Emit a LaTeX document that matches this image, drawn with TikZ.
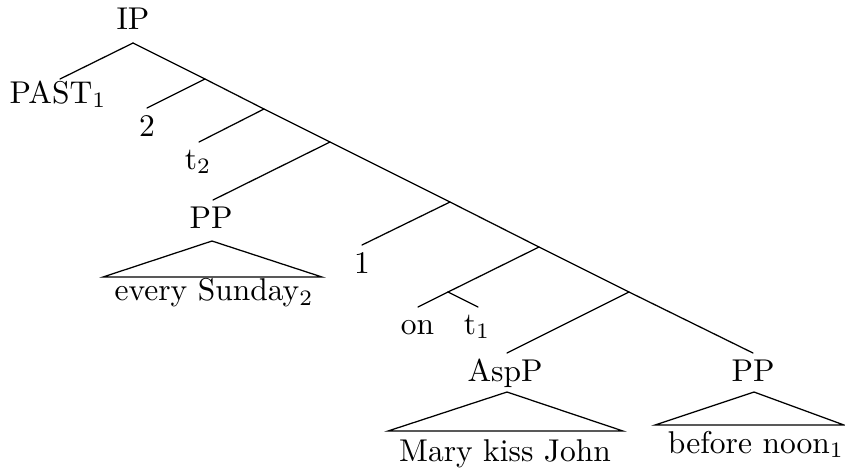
\documentclass[tikz,border=0pt]{standalone}
\begin{document}
\begin{tikzpicture}[x=0.31746pt,y=-0.31746pt,
  lbl/.style={anchor=base,inner sep=0pt,outer sep=0pt},
  edge/.style={line width=0.4pt,line cap=round},
  roof/.style={line width=0.4pt,line join=miter}]
\useasboundingbox (0,0) rectangle (845,468);
% branch points
\coordinate (ip) at (133,43);
\coordinate (b1) at (205,79);
\coordinate (b2) at (264,109);
\coordinate (b3) at (330,142);
\coordinate (b4) at (450,202);
\coordinate (b5) at (539,247);
\coordinate (b6) at (629,292);
\coordinate (ppR) at (753,353);
\coordinate (pastE) at (60,79);
\coordinate (twoE) at (147,108);
\coordinate (t2E) at (199,142);
\coordinate (ppLE) at (213,200);
\coordinate (oneE) at (362,245);
\coordinate (ont) at (448,292);
\coordinate (onE) at (418,307);
\coordinate (t1E) at (478,307);
\coordinate (aspE) at (507,353);
% roofs
\coordinate (r1a) at (212,241); \coordinate (r1l) at (103,277); \coordinate (r1r) at (322,277);
\coordinate (r2a) at (507,392); \coordinate (r2l) at (388,431); \coordinate (r2r) at (623,431);
\coordinate (r3a) at (754,392); \coordinate (r3l) at (655,425); \coordinate (r3r) at (844,425);
% labels
\node[lbl] (IP) at (133,29.3) {IP};
\node[lbl] (PAST) at (58,103) {PAST$_1$};
\node[lbl] (two) at (147,136) {2};
\node[lbl] (t2) at (198,169) {t$_2$};
\node[lbl] (PPa) at (211,228.3) {PP};
\node[lbl] (sun) at (214,300.7) {every Sunday$_2$};
\node[lbl] (one) at (362,273) {1};
\node[lbl] (on) at (417.5,334) {on};
\node[lbl] (t1) at (477,334) {t$_1$};
\node[lbl] (AspP) at (505,381.7) {AspP};
\node[lbl] (PPb) at (753,381.7) {PP};
\node[lbl] (mkj) at (505,461.7) {Mary kiss John};
\node[lbl] (bn) at (756,453) {before noon$_1$};
% edges
\draw[edge] (ip) -- (b1) -- (b2) -- (b3) -- (b4) -- (b5) -- (b6) -- (ppR);
\draw[edge] (ip) -- (pastE);
\draw[edge] (b1) -- (twoE);
\draw[edge] (b2) -- (t2E);
\draw[edge] (b3) -- (ppLE);
\draw[edge] (b4) -- (oneE);
\draw[edge] (b5) -- (ont);
\draw[edge] (ont) -- (onE);
\draw[edge] (ont) -- (t1E);
\draw[edge] (b6) -- (aspE);
\draw[roof] (r1a) -- (r1l) -- (r1r) -- cycle;
\draw[roof] (r2a) -- (r2l) -- (r2r) -- cycle;
\draw[roof] (r3a) -- (r3l) -- (r3r) -- cycle;
\end{tikzpicture}
\end{document}
